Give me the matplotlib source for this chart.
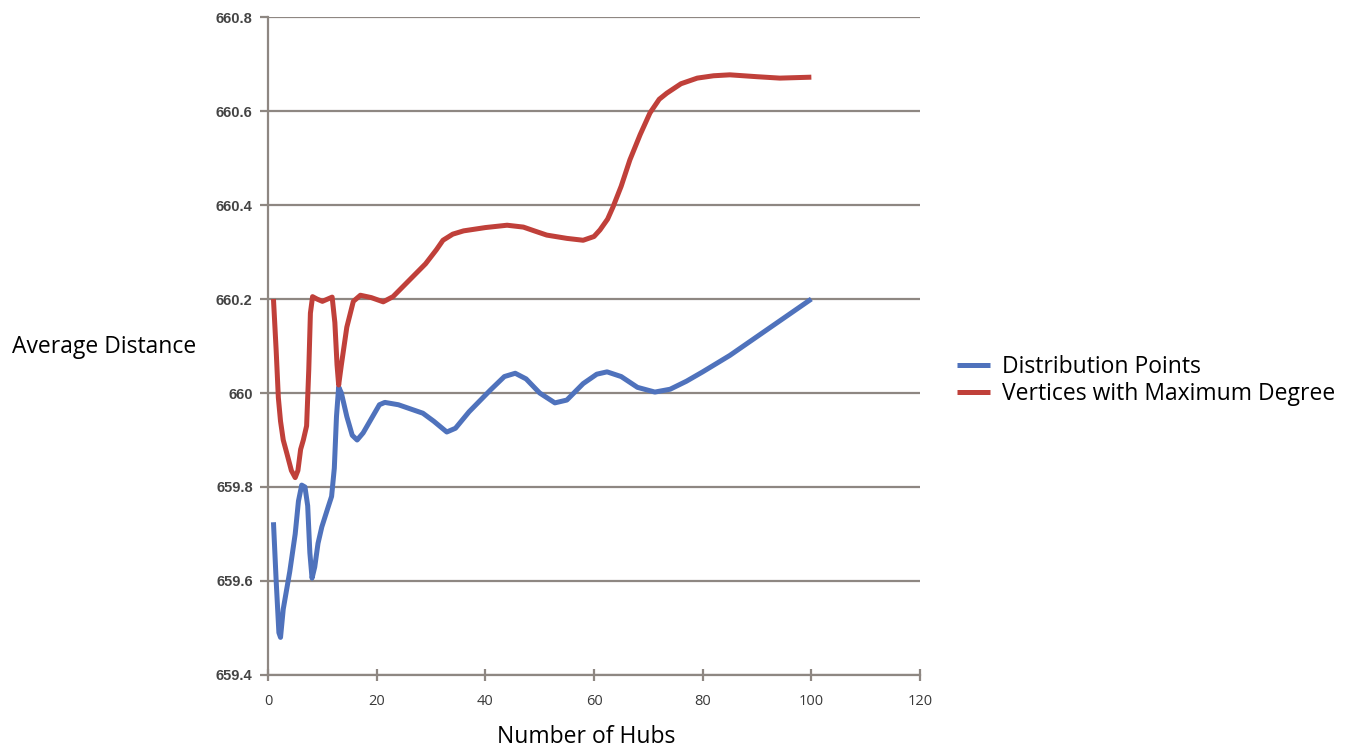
import matplotlib
matplotlib.use("Agg")
import matplotlib.pyplot as plt

# values
dist_x = [1, 1.5, 2, 2.3, 2.8, 4, 5, 5.6, 6.2, 6.8, 7.3, 7.7, 8.1, 8.6, 9.2, 9.9, 11, 11.7,
          12.2, 12.6, 13, 13.5, 14.5, 15.5, 16.4, 17.5, 19, 20.5, 21.5, 24, 28.5, 30.5, 32.9,
          34.5, 37, 40.9, 43.5, 45.5, 47.5, 50, 52.8, 55, 58, 60.5, 62.4, 65, 68, 71.2, 74,
          77, 80, 85, 90, 95, 100]
dist_y = [659.725, 659.6, 659.49, 659.48, 659.54, 659.62, 659.7, 659.77, 659.804, 659.8,
          659.76, 659.66, 659.606, 659.63, 659.68, 659.715, 659.755, 659.78, 659.84, 659.95,
          660.013, 660.0, 659.95, 659.91, 659.9, 659.915, 659.945, 659.975, 659.98, 659.975,
          659.957, 659.94, 659.917, 659.925, 659.96, 660.006, 660.035, 660.042, 660.03, 660.0,
          659.979, 659.985, 660.02, 660.04, 660.045, 660.035, 660.012, 660.002, 660.008,
          660.025, 660.045, 660.08, 660.12, 660.16, 660.2]

vert_x = [1, 1.5, 1.9, 2.3, 2.8, 3.5, 4.3, 5, 5.5, 6, 6.5, 7.1, 7.5, 7.8, 8.2, 9, 10, 11,
          11.8, 12.3, 12.7, 13, 13.5, 14.5, 15.7, 17, 19, 21.2, 23, 26, 29, 31, 32.2, 34, 36,
          40, 44, 47, 49, 51.3, 55, 58, 60, 61.1, 62.5, 63.5, 65, 66.6, 68.5, 70.3, 72, 73.4,
          76, 79, 82, 85, 90, 94.2, 100]
vert_y = [660.2, 660.09, 659.99, 659.94, 659.9, 659.87, 659.835, 659.82, 659.835, 659.88,
          659.9, 659.93, 660.05, 660.17, 660.205, 660.2, 660.195, 660.2, 660.204, 660.15,
          660.06, 660.017, 660.06, 660.14, 660.195, 660.208, 660.203, 660.194, 660.205,
          660.24, 660.275, 660.305, 660.325, 660.338, 660.345, 660.352, 660.357, 660.353,
          660.345, 660.336, 660.329, 660.325, 660.333, 660.347, 660.37, 660.396, 660.44,
          660.496, 660.55, 660.596, 660.625, 660.638, 660.658, 660.67, 660.675, 660.677,
          660.673, 660.67, 660.672]

x_ticks = [0, 20, 40, 60, 80, 100, 120]
y_ticks = [659.4, 659.6, 659.8, 660, 660.2, 660.4, 660.6, 660.8]
y_tick_labels = ["659.4", "659.6", "659.8", "660", "660.2", "660.4", "660.6", "660.8"]

grey = "#8e8782"
fig = plt.figure(figsize=(13.64, 7.53), dpi=100)
ax = fig.add_axes([0.1965, 0.1036, 0.478, 0.8738])

ax.plot(dist_x, dist_y, color="#4f72bc", lw=3.6, label="Distribution Points",
        solid_joinstyle="round", solid_capstyle="butt", zorder=3)
ax.plot(vert_x, vert_y, color="#c0403a", lw=3.6, label="Vertices with Maximum Degree",
        solid_joinstyle="round", solid_capstyle="butt", zorder=3)

ax.set_xlim(0, 120)
ax.set_ylim(659.4, 660.8)
ax.set_xticks(x_ticks)
ax.set_xticklabels([str(t) for t in x_ticks], fontsize=10.5, color="#3a3a3a", family="Open Sans")
ax.set_yticks(y_ticks)
ax.set_yticklabels(y_tick_labels, fontsize=10.5, color="#444444", family="Liberation Sans",
                   fontweight="bold")
ax.grid(axis="y", color=grey, lw=1.6)
ax.set_axisbelow(True)
for s in ["top", "right"]:
    ax.spines[s].set_visible(False)
for s in ["left", "bottom"]:
    ax.spines[s].set_color(grey)
    ax.spines[s].set_linewidth(1.6)
ax.tick_params(axis="x", direction="inout", length=8, width=1.6, color=grey, pad=10)
ax.tick_params(axis="y", direction="out", length=6, width=1.6, color=grey, pad=5)

ax.set_xlabel("Number of Hubs", fontsize=16.5, family="Open Sans")
ax.xaxis.set_label_coords(0.4877, -0.076)
fig.text(0.009, 0.539, "Average Distance", fontsize=16.5, family="Open Sans", va="center")

ax.legend(loc="center left", bbox_to_anchor=(1.057, 0.4476), frameon=False,
          prop={"family": "Open Sans", "size": 16.5}, handlelength=1.45, handletextpad=0.52,
          labelspacing=0.1, borderpad=0, borderaxespad=0)

fig.savefig("out.png", dpi=100)
